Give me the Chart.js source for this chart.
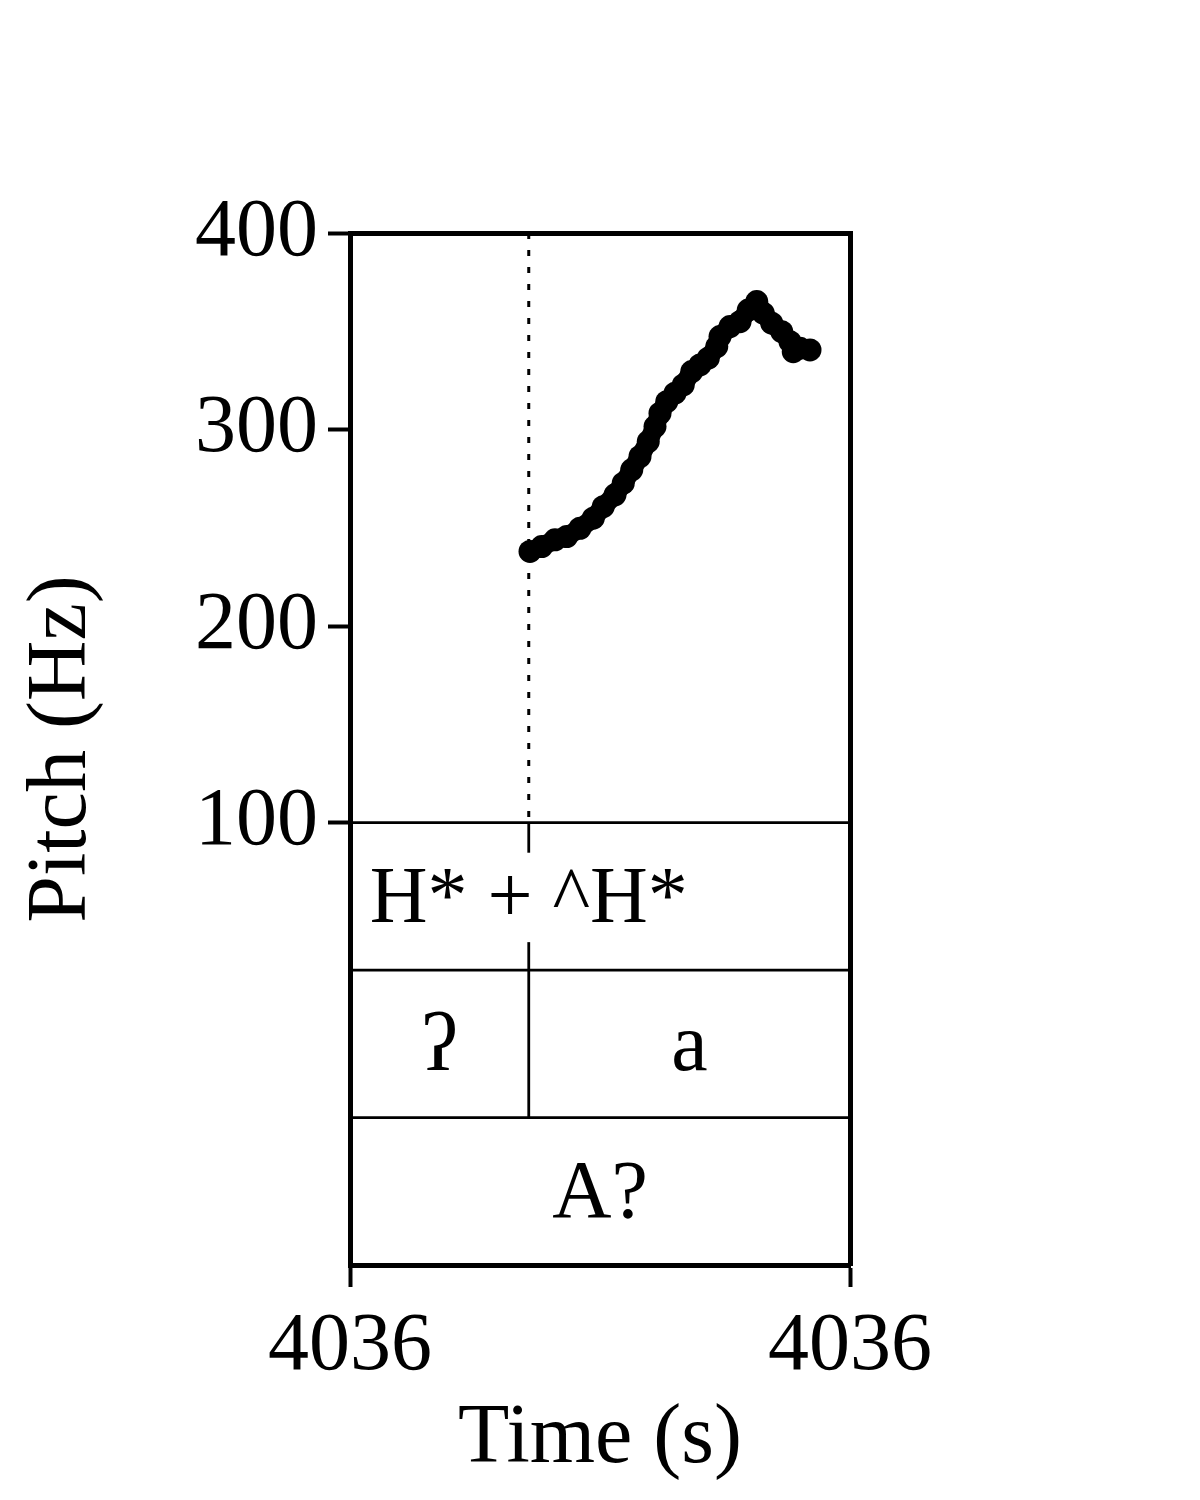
<!DOCTYPE html>
<html>
<head>
<meta charset="utf-8">
<script src="https://cdn.jsdelivr.net/npm/chart.js@4.4.1/dist/chart.umd.min.js"></script>
<style>
html,body{margin:0;padding:0;background:#fff;}
#wrap{width:1200px;height:1500px;}
</style>
</head>
<body>
<div id="wrap"><canvas id="c" width="1200" height="1500"></canvas></div>
<script>
// ---- data ----
const pitchTimes = [4035.994, 4036.0034, 4036.014, 4036.0234, 4036.034, 4036.0446, 4036.0526, 4036.062,
  4036.0686, 4036.0754, 4036.082, 4036.0886, 4036.094, 4036.098, 4036.1034, 4036.11, 4036.1166,
  4036.1234, 4036.13, 4036.1366, 4036.1434, 4036.146, 4036.154, 4036.162, 4036.1686, 4036.1754,
  4036.1806, 4036.1874, 4036.1954, 4036.202, 4036.2046, 4036.21, 4036.218];
const pitchValues = [238.0, 240.5, 243.9, 245.6, 249.8, 254.9, 260.8, 266.8,
  272.7, 279.5, 286.3, 293.9, 301.5, 308.3, 314.2, 318.5, 322.7,
  329.5, 332.9, 336.3, 342.2, 347.3, 352.4, 354.9, 360.8, 365.1,
  359.2, 354.1, 349.8, 344.7, 339.6, 341.4, 340.5];
const timeRange = [4035.85, 4036.25];
const pitchRange = [-125, 400];
const yTickValues = [100, 200, 300, 400];
const xTickLabels = ['4036', '4036'];
const tierEdges = [100, 25, -50, -125];
const boundaryTime = 4035.993;
const tier1Label = 'H* + ^H*';
const tier2Labels = ['ʔ', 'a'];
const tier3Labels = ['A?'];

const serif = "'Liberation Serif', 'Times New Roman', 'DejaVu Serif', serif";

function seg(ctx, x1, y1, x2, y2) {
  ctx.beginPath(); ctx.moveTo(x1, y1); ctx.lineTo(x2, y2); ctx.stroke();
}

const tierPlugin = {
  id: 'tiers',
  beforeDatasetsDraw(chart) {
    const {ctx, chartArea: a, scales: {x, y}} = chart;
    ctx.save();
    ctx.strokeStyle = '#000';
    ctx.fillStyle = '#000';
    ctx.lineWidth = 2.8;
    for (let i = 0; i < tierEdges.length - 1; i++) {
      const py = y.getPixelForValue(tierEdges[i]);
      seg(ctx, a.left, py, a.right, py);
    }
    const bx = x.getPixelForValue(boundaryTime);
    // dotted boundary over the pitch panel
    ctx.lineWidth = 3;
    ctx.setLineDash([6, 11]);
    seg(ctx, bx, y.getPixelForValue(pitchRange[1]), bx, y.getPixelForValue(tierEdges[0]));
    ctx.setLineDash([]);
    ctx.lineWidth = 2.8;
    // tier 1 point marks
    const t1top = y.getPixelForValue(tierEdges[0]);
    const t1bot = y.getPixelForValue(tierEdges[1]);
    seg(ctx, bx, t1top, bx, t1top + 30);
    seg(ctx, bx, t1bot - 28, bx, t1bot);
    // tier 2 interval boundary
    const t2bot = y.getPixelForValue(tierEdges[2]);
    seg(ctx, bx, t1bot, bx, t2bot);
    const t3bot = y.getPixelForValue(tierEdges[3]);

    ctx.textAlign = 'center';
    ctx.textBaseline = 'alphabetic';
    // tier 1
    ctx.font = '80px ' + serif;
    ctx.fillText(tier1Label, bx, (t1top + t1bot) / 2 + 26);
    // tier 2
    ctx.font = '82px ' + serif;
    const xl = x.getPixelForValue(timeRange[0]);
    const xr = x.getPixelForValue(timeRange[1]);
    ctx.fillText(tier2Labels[0], (xl + bx) / 2, (t1bot + t2bot) / 2 + 26);
    ctx.fillText(tier2Labels[1], (bx + xr) / 2, (t1bot + t2bot) / 2 + 26);
    // tier 3
    ctx.fillText(tier3Labels[0], (xl + xr) / 2, (t2bot + t3bot) / 2 + 26);
    ctx.restore();
  }
};

new Chart(document.getElementById('c'), {
  type: 'line',
  data: {
    datasets: [{
      data: pitchTimes.map((t, i) => ({x: t, y: pitchValues[i]})),
      borderColor: '#000',
      backgroundColor: '#000',
      borderWidth: 19,
      borderCapStyle: 'round',
      borderJoinStyle: 'round',
      pointRadius: 11.5,
      pointBorderWidth: 0,
      pointBackgroundColor: '#000',
      tension: 0,
      fill: false
    }]
  },
  options: {
    responsive: false,
    animation: false,
    devicePixelRatio: 1,
    layout: {padding: {top: 233, right: 350, bottom: 0, left: 0}},
    plugins: {legend: {display: false}, tooltip: {enabled: false}},
    scales: {
      x: {
        type: 'linear', position: 'bottom',
        min: timeRange[0], max: timeRange[1],
        afterBuildTicks: s => { s.ticks = [{value: timeRange[0]}, {value: timeRange[1]}]; },
        afterFit: s => { s.height = 235; },
        ticks: {
          callback: (v, i) => xTickLabels[i],
          font: {family: serif, size: 82}, color: '#000', padding: 11,
          maxRotation: 0, autoSkip: false
        },
        grid: {display: true, drawOnChartArea: false, drawTicks: true, tickLength: 22, tickWidth: 4, color: '#000'},
        border: {display: true, width: 5, color: '#000'},
        title: {display: true, text: 'Time (s)', font: {family: serif, size: 84}, color: '#000', padding: {top: 0, bottom: 10}}
      },
      y: {
        type: 'linear', position: 'left',
        min: pitchRange[0], max: pitchRange[1],
        afterBuildTicks: s => { s.ticks = yTickValues.map(v => ({value: v})); },
        afterFit: s => { s.width = 350; },
        ticks: {
          callback: v => String(v),
          font: {family: serif, size: 82}, color: '#000', padding: 10, autoSkip: false
        },
        grid: {display: true, drawOnChartArea: false, drawTicks: true, tickLength: 22, tickWidth: 4, color: '#000'},
        border: {display: true, width: 5, color: '#000'},
        title: {display: true, text: 'Pitch (Hz)', font: {family: serif, size: 84}, color: '#000', padding: {top: 13, bottom: 0}}
      },
      x2: {
        type: 'linear', position: 'top',
        min: timeRange[0], max: timeRange[1],
        ticks: {display: false}, grid: {display: false},
        border: {display: true, width: 5, color: '#000'},
        afterFit: s => { s.height = 0; }
      },
      y2: {
        type: 'linear', position: 'right',
        min: pitchRange[0], max: pitchRange[1],
        ticks: {display: false}, grid: {display: false},
        border: {display: true, width: 5, color: '#000'},
        afterFit: s => { s.width = 0; }
      }
    }
  },
  plugins: [tierPlugin]
});
</script>
</body>
</html>
